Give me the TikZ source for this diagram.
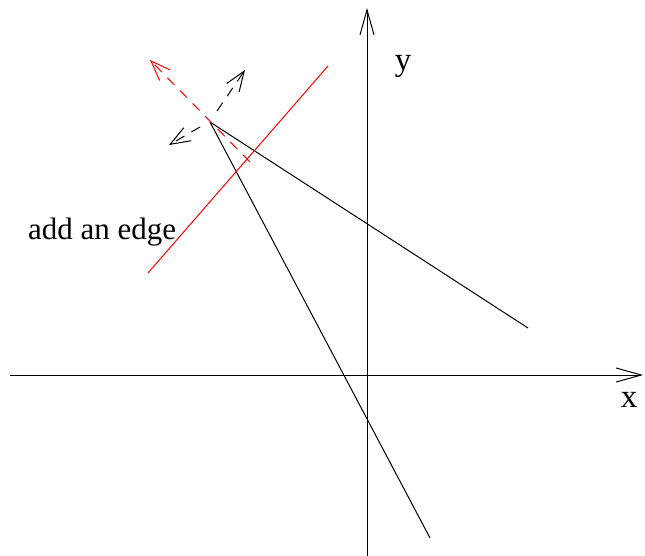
\documentclass[tikz,border=0pt]{standalone}
\usepackage{fontspec}
\setmainfont{Liberation Serif}
\usetikzlibrary{arrows.meta}
\begin{document}
\begin{tikzpicture}[x=1pt,y=-1pt,
  ax/.style={line width=1pt,-{Straight Barb[length=25pt,width=14pt,line width=1pt]}},
  ln/.style={line width=1pt},
  dar/.style={line width=1pt,dash pattern=on 10pt off 8pt,-{Straight Barb[length=20pt,width=15pt,line width=1pt]}},
  lbl/.style={inner sep=0pt,font=\fontsize{33}{36}\selectfont},
  txt/.style={inner sep=0pt,font=\fontsize{31}{34}\selectfont}]
\useasboundingbox (0,0) rectangle (645,556);
\coordinate (xs) at (10,375);
\coordinate (xe) at (643,375);
\coordinate (ys) at (367,556);
\coordinate (ye) at (367,8);
\coordinate (v) at (210,122);
\coordinate (e1) at (528,328);
\coordinate (e2) at (430,538);
\coordinate (r1) at (148,273);
\coordinate (r2) at (328,66);
\coordinate (rd) at (250,162);
\coordinate (rt) at (150,60);
\coordinate (n1s) at (217,111);
\coordinate (n1) at (245,70);
\coordinate (n2s) at (200,127);
\coordinate (n2) at (169,145);
\draw[ax] (xs) -- (xe);
\draw[ax] (ys) -- (ye);
\node[lbl] (ylab) at (403,66) {y};
\node[lbl] (xlab) at (629,400) {x};
\draw[ln] (v) -- (e1);
\draw[ln] (v) -- (e2);
\draw[ln,red] (r1) -- (r2);
\draw[dar,red] (rd) -- (rt);
\draw[dar] (n1s) -- (n1);
\draw[dar] (n2s) -- (n2);
\node[txt,anchor=base west] (lab) at (28,240) {add an edge};
\end{tikzpicture}
\end{document}
